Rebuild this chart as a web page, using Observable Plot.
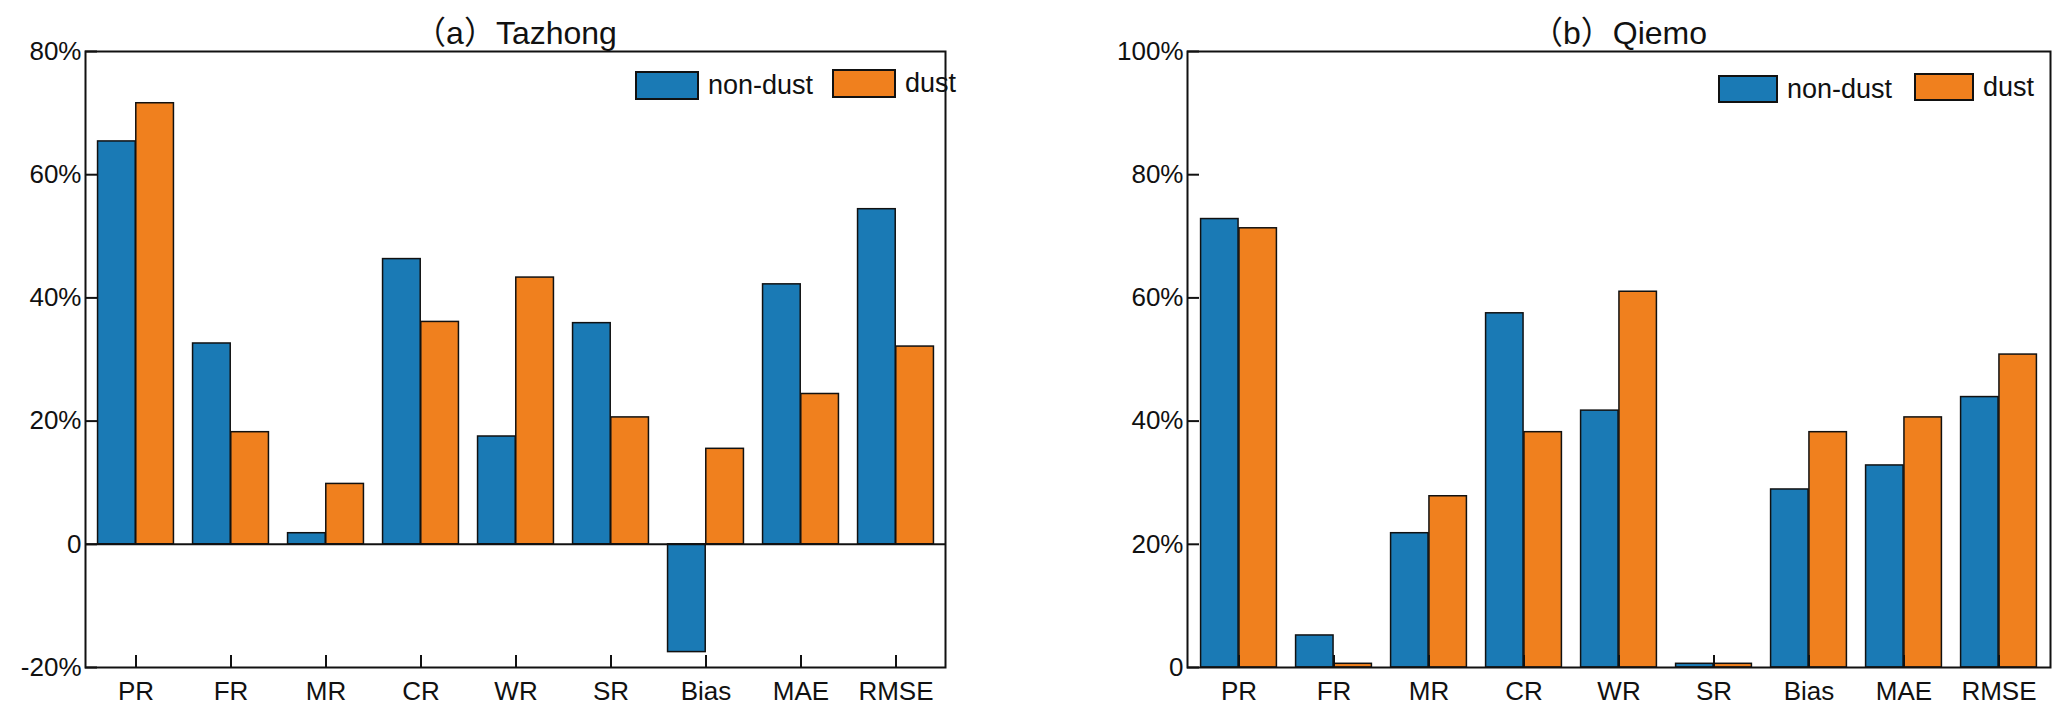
<!DOCTYPE html>
<html>
<head>
<meta charset="utf-8">
<script src="https://cdn.jsdelivr.net/npm/d3@7"></script>
<script src="https://cdn.jsdelivr.net/npm/@observablehq/plot@0.6"></script>
<style>
  html, body { margin: 0; padding: 0; background: #fff; }
  #wrap { position: relative; width: 2067px; height: 719px; display: flex; font-family: "Liberation Sans", Arial, "Noto Sans CJK SC", sans-serif; }
  .leg { position: absolute; display: flex; align-items: center; font-size: 27px; color: #111; }
  .sw { border: 2px solid #111; box-sizing: border-box; }
</style>
</head>
<body>
<div id="wrap"></div>
<script>
// ---- data ----
const categories = ["PR", "FR", "MR", "CR", "WR", "SR", "Bias", "MAE", "RMSE"];
const seriesNames = ["non-dust", "dust"];
const seriesColors = ["#1a7ab5", "#f0801e"];

const tazhongNonDust = [65.4, 32.6, 1.8, 46.3, 17.5, 35.9, -17.5, 42.2, 54.4];
const tazhongDust    = [71.6, 18.2, 9.8, 36.1, 43.3, 20.6, 15.5, 24.4, 32.1];
const qiemoNonDust   = [72.8, 5.2, 21.8, 57.5, 41.7, 0.6, 28.9, 32.8, 43.9];
const qiemoDust      = [71.3, 0.6, 27.8, 38.2, 61.0, 0.6, 38.2, 40.6, 50.8];

const tazhongTicks = [-20, 0, 20, 40, 60, 80];
const qiemoTicks = [0, 20, 40, 60, 80, 100];

const panels = [
  {title: "（a）Tazhong", nonDust: tazhongNonDust, dust: tazhongDust, ticks: tazhongTicks, domain: [-20, 80],
   width: 1000, marginLeft: 85, marginRight: 55, legendX: [635, 832], legendY: 71, swW: 64, swH: 29, zero: true},
  {title: "（b）Qiemo", nonDust: qiemoNonDust, dust: qiemoDust, ticks: qiemoTicks, domain: [0, 100],
   width: 1067, marginLeft: 187, marginRight: 17, legendX: [1718, 1914], legendY: 75, swW: 60, swH: 28, zero: false}
];

const H = 719, marginTop = 51, marginBottom = 52;
const font = "'Liberation Sans', Arial, 'Noto Sans CJK SC', sans-serif";
const wrap = document.getElementById("wrap");

panels.forEach((p) => {
  const innerW = p.width - p.marginLeft - p.marginRight;
  const innerH = H - marginTop - marginBottom;
  const bw = innerW / categories.length;
  const rows = [
    categories.map((c, i) => ({cat: c, v: p.nonDust[i]})),
    categories.map((c, i) => ({cat: c, v: p.dust[i]}))
  ];
  const fmt = (d) => d === 0 ? "0" : d + "%";
  const chart = Plot.plot({
    width: p.width,
    height: H,
    marginTop, marginBottom,
    marginLeft: p.marginLeft,
    marginRight: p.marginRight,
    style: {fontSize: "26px", fontFamily: font, color: "#111", background: "#fff"},
    x: {type: "band", domain: categories, padding: 0, label: null},
    y: {domain: p.domain, label: null},
    marks: [
      Plot.barY(rows[0], {x: "cat", y: "v", fill: seriesColors[0], stroke: "#111", strokeWidth: 1.5,
        insetLeft: bw * 0.1, insetRight: bw * 0.5}),
      Plot.barY(rows[1], {x: "cat", y: "v", fill: seriesColors[1], stroke: "#111", strokeWidth: 1.5,
        insetLeft: bw * 0.5, insetRight: bw * 0.1}),
      p.zero ? Plot.ruleY([0], {stroke: "#111", strokeWidth: 2}) : null,
      Plot.ruleX(categories, {x: (d) => d, stroke: "#111", strokeWidth: 2, insetTop: innerH - 12}),
      Plot.ruleY(p.ticks, {y: (d) => d, stroke: "#111", strokeWidth: 2, insetRight: innerW - 12}),
      Plot.frame({stroke: "#111", strokeWidth: 2}),
      Plot.axisX({tickSize: 0, tickPadding: 14, fontSize: 26}),
      Plot.axisY({ticks: p.ticks, tickSize: 0, tickPadding: 4, tickFormat: fmt, fontSize: 26}),
      Plot.text([p.title], {frameAnchor: "top", dy: -8, lineAnchor: "bottom", fontSize: 32, fill: "#111"})
    ]
  });
  chart.style.display = "block";
  chart.style.flex = "none";
  wrap.appendChild(chart);

  seriesNames.forEach((name, k) => {
    const item = document.createElement("div");
    item.className = "leg";
    item.style.left = p.legendX[k] + "px";
    item.style.top = (p.legendY - (k === 1 ? 2 : 0)) + "px";
    item.style.height = p.swH + "px";
    const sw = document.createElement("div");
    sw.className = "sw";
    sw.style.width = p.swW + "px";
    sw.style.height = p.swH + "px";
    sw.style.background = seriesColors[k];
    const tx = document.createElement("span");
    tx.textContent = name;
    tx.style.marginLeft = "9px";
    item.appendChild(sw);
    item.appendChild(tx);
    wrap.appendChild(item);
  });
});
</script>
</body>
</html>
